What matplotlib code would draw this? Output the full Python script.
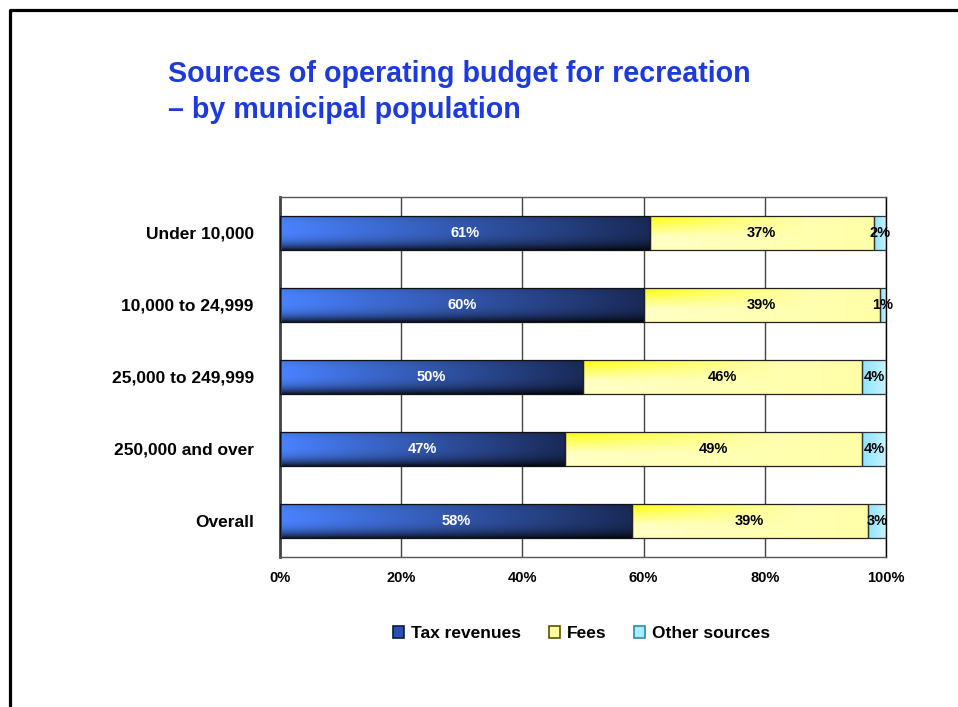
import numpy as np
import matplotlib.pyplot as plt
from matplotlib.colors import to_rgb
from matplotlib.patches import Patch
from matplotlib.lines import Line2D

plt.rcParams['font.family'] = ['Liberation Sans', 'DejaVu Sans']

groups = ['Under 10,000', '10,000 to 24,999', '25,000 to 249,999',
          '250,000 and over', 'Overall']
tax = [61, 60, 50, 47, 58]
fees = [37, 39, 46, 49, 39]
other = [2, 1, 4, 4, 3]
series_names = ['Tax revenues', 'Fees', 'Other sources']
xticks = [0, 20, 40, 60, 80, 100]

fig = plt.figure(figsize=(9.58, 7.07), dpi=100)
ax = fig.add_axes([0.2923, 0.2122, 0.6326, 0.5092])

# slide frame
fig.add_artist(Line2D([0.0105, 0.0105, 1.0], [0.0, 0.9859, 0.9859],
                      transform=fig.transFigure, color='black', lw=2.3))

fig.text(0.175, 0.895, 'Sources of operating budget for recreation',
         color='#1c3ade', fontsize=20.6, fontweight='bold', va='center')
fig.text(0.175, 0.845, '\u2013 by municipal population',
         color='#1c3ade', fontsize=20.6, fontweight='bold', va='center')


def grad_fill(ax, patch, c_left, c_right, c_top=None, shade=0.18):
    x0, y0 = patch.get_x(), patch.get_y()
    w, h = patch.get_width(), patch.get_height()
    nx, ny = 120, 30
    t = np.linspace(0, 1, nx)
    a = np.array(to_rgb(c_left))
    b = np.array(to_rgb(c_right))
    row = a[None, :] * (1 - t[:, None]) + b[None, :] * t[:, None]
    img = np.repeat(row[None, :, :], ny, axis=0)
    v = np.linspace(0, 1, ny)[:, None, None]
    # darker at top and bottom edges, lighter in the middle
    edge = np.abs(v - 0.35) * 2
    img = img * (1 - shade * edge ** 3)
    if c_top is not None:
        ct = np.array(to_rgb(c_top))
        wt = np.clip(1 - v * 1.6, 0, 1) * np.clip(1 - t[None, :, None] * 1.4, 0, 1)
        img = img * (1 - wt) + ct[None, None, :] * wt
    im = ax.imshow(np.clip(img, 0, 1), extent=[x0, x0 + w, y0 + h, y0],
                   aspect='auto', interpolation='bilinear', zorder=2)
    im.set_clip_path(patch)


y = np.arange(len(groups))
bh = 0.47
left2 = np.array(tax)
left3 = left2 + np.array(fees)

b1 = ax.barh(y, tax, height=bh, color='none', edgecolor='#111111', lw=0.9, zorder=3)
b2 = ax.barh(y, fees, left=left2, height=bh, color='none', edgecolor='#222222', lw=0.9, zorder=3)
b3 = ax.barh(y, other, left=left3, height=bh, color='none', edgecolor='#333333', lw=0.9, zorder=3)

for p in b1:
    grad_fill(ax, p, '#4a82ff', '#1a2a58', shade=0.35)
for p in b2:
    grad_fill(ax, p, '#ffffc4', '#ffffa8', c_top='#ffff10', shade=0.0)
for p in b3:
    grad_fill(ax, p, '#8fe4ff', '#c8f4ff', shade=0.0)

for i in range(len(groups)):
    ax.text(tax[i] / 2, y[i], f'{tax[i]}%', color='white', fontsize=10.5,
            fontweight='bold', ha='center', va='center', zorder=4)
    ax.text(left2[i] + fees[i] / 2, y[i], f'{fees[i]}%', color='black', fontsize=10.5,
            fontweight='bold', ha='center', va='center', zorder=4)
    ax.text(left3[i] + other[i] / 2, y[i], f'{other[i]}%', color='black', fontsize=10.5,
            fontweight='bold', ha='center', va='center', zorder=4)

ax.set_xlim(0, 100)
ax.set_ylim(len(groups) - 0.5, -0.5)
ax.set_yticks(y)
ax.set_yticklabels(groups, fontsize=12.5, fontweight='bold')
ax.set_xticks(xticks)
ax.set_xticklabels([f'{v}%' for v in xticks], fontsize=10.5, fontweight='bold')
ax.tick_params(length=0, pad=19, axis='y')
ax.tick_params(length=0, pad=10, axis='x')
ax.xaxis.grid(True, color='#444444', lw=1)
ax.set_axisbelow(True)
for s in ['top', 'bottom', 'right']:
    ax.spines[s].set_color('#555555')
    ax.spines[s].set_linewidth(1)
ax.spines['right'].set_color('black')
ax.spines['left'].set_color('#444444')
ax.spines['left'].set_linewidth(2)

handles = [Patch(facecolor='#2d4fb0', edgecolor='#0d1a40', lw=1.2),
           Patch(facecolor='#ffffa0', edgecolor='#555500', lw=1.2),
           Patch(facecolor='#a8ecff', edgecolor='#2a8fb0', lw=1.2)]
fig.legend(handles, series_names, loc='center', bbox_to_anchor=(0.607, 0.104),
           ncol=3, frameon=False, prop={'size': 12.5, 'weight': 'bold'},
           handlelength=0.65, handleheight=0.65, handletextpad=0.4, columnspacing=1.6)

fig.savefig('out.png', dpi=100)
